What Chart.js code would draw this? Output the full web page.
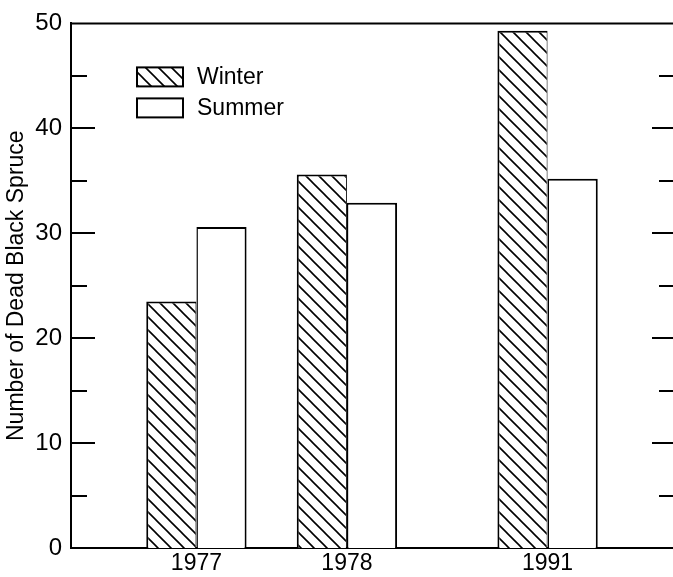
<!DOCTYPE html>
<html>
<head>
<meta charset="utf-8">
<script src="https://cdn.jsdelivr.net/npm/chart.js@4"></script>
<style>
    html, body { margin: 0; padding: 0; background: #fff; }
    #wrap { width: 673px; height: 577px; }
</style>
</head>
<body>
<div id="wrap"><canvas id="spruceChart" width="673" height="577"></canvas></div>
<script>
var years = ['1977', '1978', '1991'];
var winterDeaths = [23.5, 35.6, 49.3];
var summerDeaths = [30.6, 32.9, 35.2];
var seriesNames = ['Winter', 'Summer'];

// the original spaces the groups unevenly, so years sit in slots of a wider category axis
var slotOf = [2, 5, 9];
var slotCount = 12;

var labels = [], winterData = [], summerData = [];
for (var s = 0; s < slotCount; s++) {
    labels.push('');
    winterData.push(null);
    summerData.push(null);
}
years.forEach(function (y, i) {
    labels[slotOf[i]] = y;
    winterData[slotOf[i]] = winterDeaths[i];
    summerData[slotOf[i]] = summerDeaths[i];
});

function hatchPattern() {
    var c = document.createElement('canvas');
    c.width = 13; c.height = 13;
    var g = c.getContext('2d');
    g.fillStyle = '#fff';
    g.fillRect(0, 0, 13, 13);
    g.strokeStyle = '#000';
    g.lineWidth = 1.6;
    g.beginPath();
    g.moveTo(-2, -2); g.lineTo(15, 15);
    g.moveTo(-2, 11); g.lineTo(2, 15);
    g.moveTo(11, -2); g.lineTo(15, 2);
    g.stroke();
    return g.createPattern(c, 'repeat');
}

var font = 'Liberation Sans, Arial, Helvetica, sans-serif';

var framePlugin = {
    id: 'frame',
    afterDraw: function (chart) {
        var ctx = chart.ctx, a = chart.chartArea, y = chart.scales.y;
        ctx.save();
        ctx.strokeStyle = '#000';
        ctx.lineWidth = 2;
        ctx.beginPath();
        ctx.moveTo(a.left, a.top);
        ctx.lineTo(a.right, a.top);
        for (var v = 5; v < 50; v += 5) {
            var py = Math.round(y.getPixelForValue(v));
            var major = v % 10 === 0;
            ctx.moveTo(a.left, py);
            ctx.lineTo(a.left + (major ? 24 : 16), py);
            ctx.moveTo(a.right, py);
            ctx.lineTo(a.right - (major ? 21 : 14), py);
        }
        ctx.stroke();

        // legend inside the plot
        var bx = a.left + 66, by = a.top + 44;
        ctx.font = '23px ' + font;
        ctx.textBaseline = 'middle';
        chart.data.datasets.forEach(function (ds, i) {
            var top = by + i * 31;
            ctx.fillStyle = ds.backgroundColor;
            ctx.fillRect(bx, top, 46, 19);
            ctx.lineWidth = 2;
            ctx.strokeRect(bx, top, 46, 19);
            ctx.fillStyle = '#000';
            ctx.fillText(ds.label, bx + 60, top + 10);
        });
        ctx.restore();
    }
};

new Chart(document.getElementById('spruceChart'), {
    type: 'bar',
    data: {
        labels: labels,
        datasets: [{
            label: seriesNames[0],
            data: winterData,
            backgroundColor: hatchPattern(),
            borderColor: '#000',
            borderWidth: { left: 2, top: 2, right: 1, bottom: 0 },
            borderSkipped: false
        }, {
            label: seriesNames[1],
            data: summerData,
            backgroundColor: '#fff',
            borderColor: '#000',
            borderWidth: { left: 1.5, top: 2, right: 2, bottom: 0 },
            borderSkipped: false
        }]
    },
    options: {
        responsive: false,
        animation: false,
        events: [],
        layout: { padding: { top: 18, left: 0, right: 0, bottom: 0 } },
        datasets: {
            bar: { categoryPercentage: 2, barPercentage: 1 }
        },
        plugins: {
            legend: { display: false },
            tooltip: { enabled: false }
        },
        scales: {
            x: {
                grid: { display: false, drawTicks: false },
                border: { display: true, color: '#000', width: 2 },
                ticks: {
                    color: '#000',
                    font: { family: font, size: 23 },
                    padding: 2,
                    maxRotation: 0,
                    autoSkip: false
                },
                afterFit: function (scale) { scale.height = 29; }
            },
            y: {
                min: 0,
                max: 50,
                grid: { display: false, drawTicks: false },
                border: { display: true, color: '#000', width: 2 },
                ticks: {
                    stepSize: 10,
                    color: '#000',
                    font: { family: font, size: 24 },
                    padding: 9
                },
                title: {
                    display: true,
                    text: 'Number of Dead Black Spruce',
                    color: '#000',
                    font: { family: font, size: 23 },
                    padding: { top: 3, bottom: 0 }
                },
                afterFit: function (scale) { scale.width = 71; }
            }
        }
    },
    plugins: [framePlugin]
});
</script>
</body>
</html>
